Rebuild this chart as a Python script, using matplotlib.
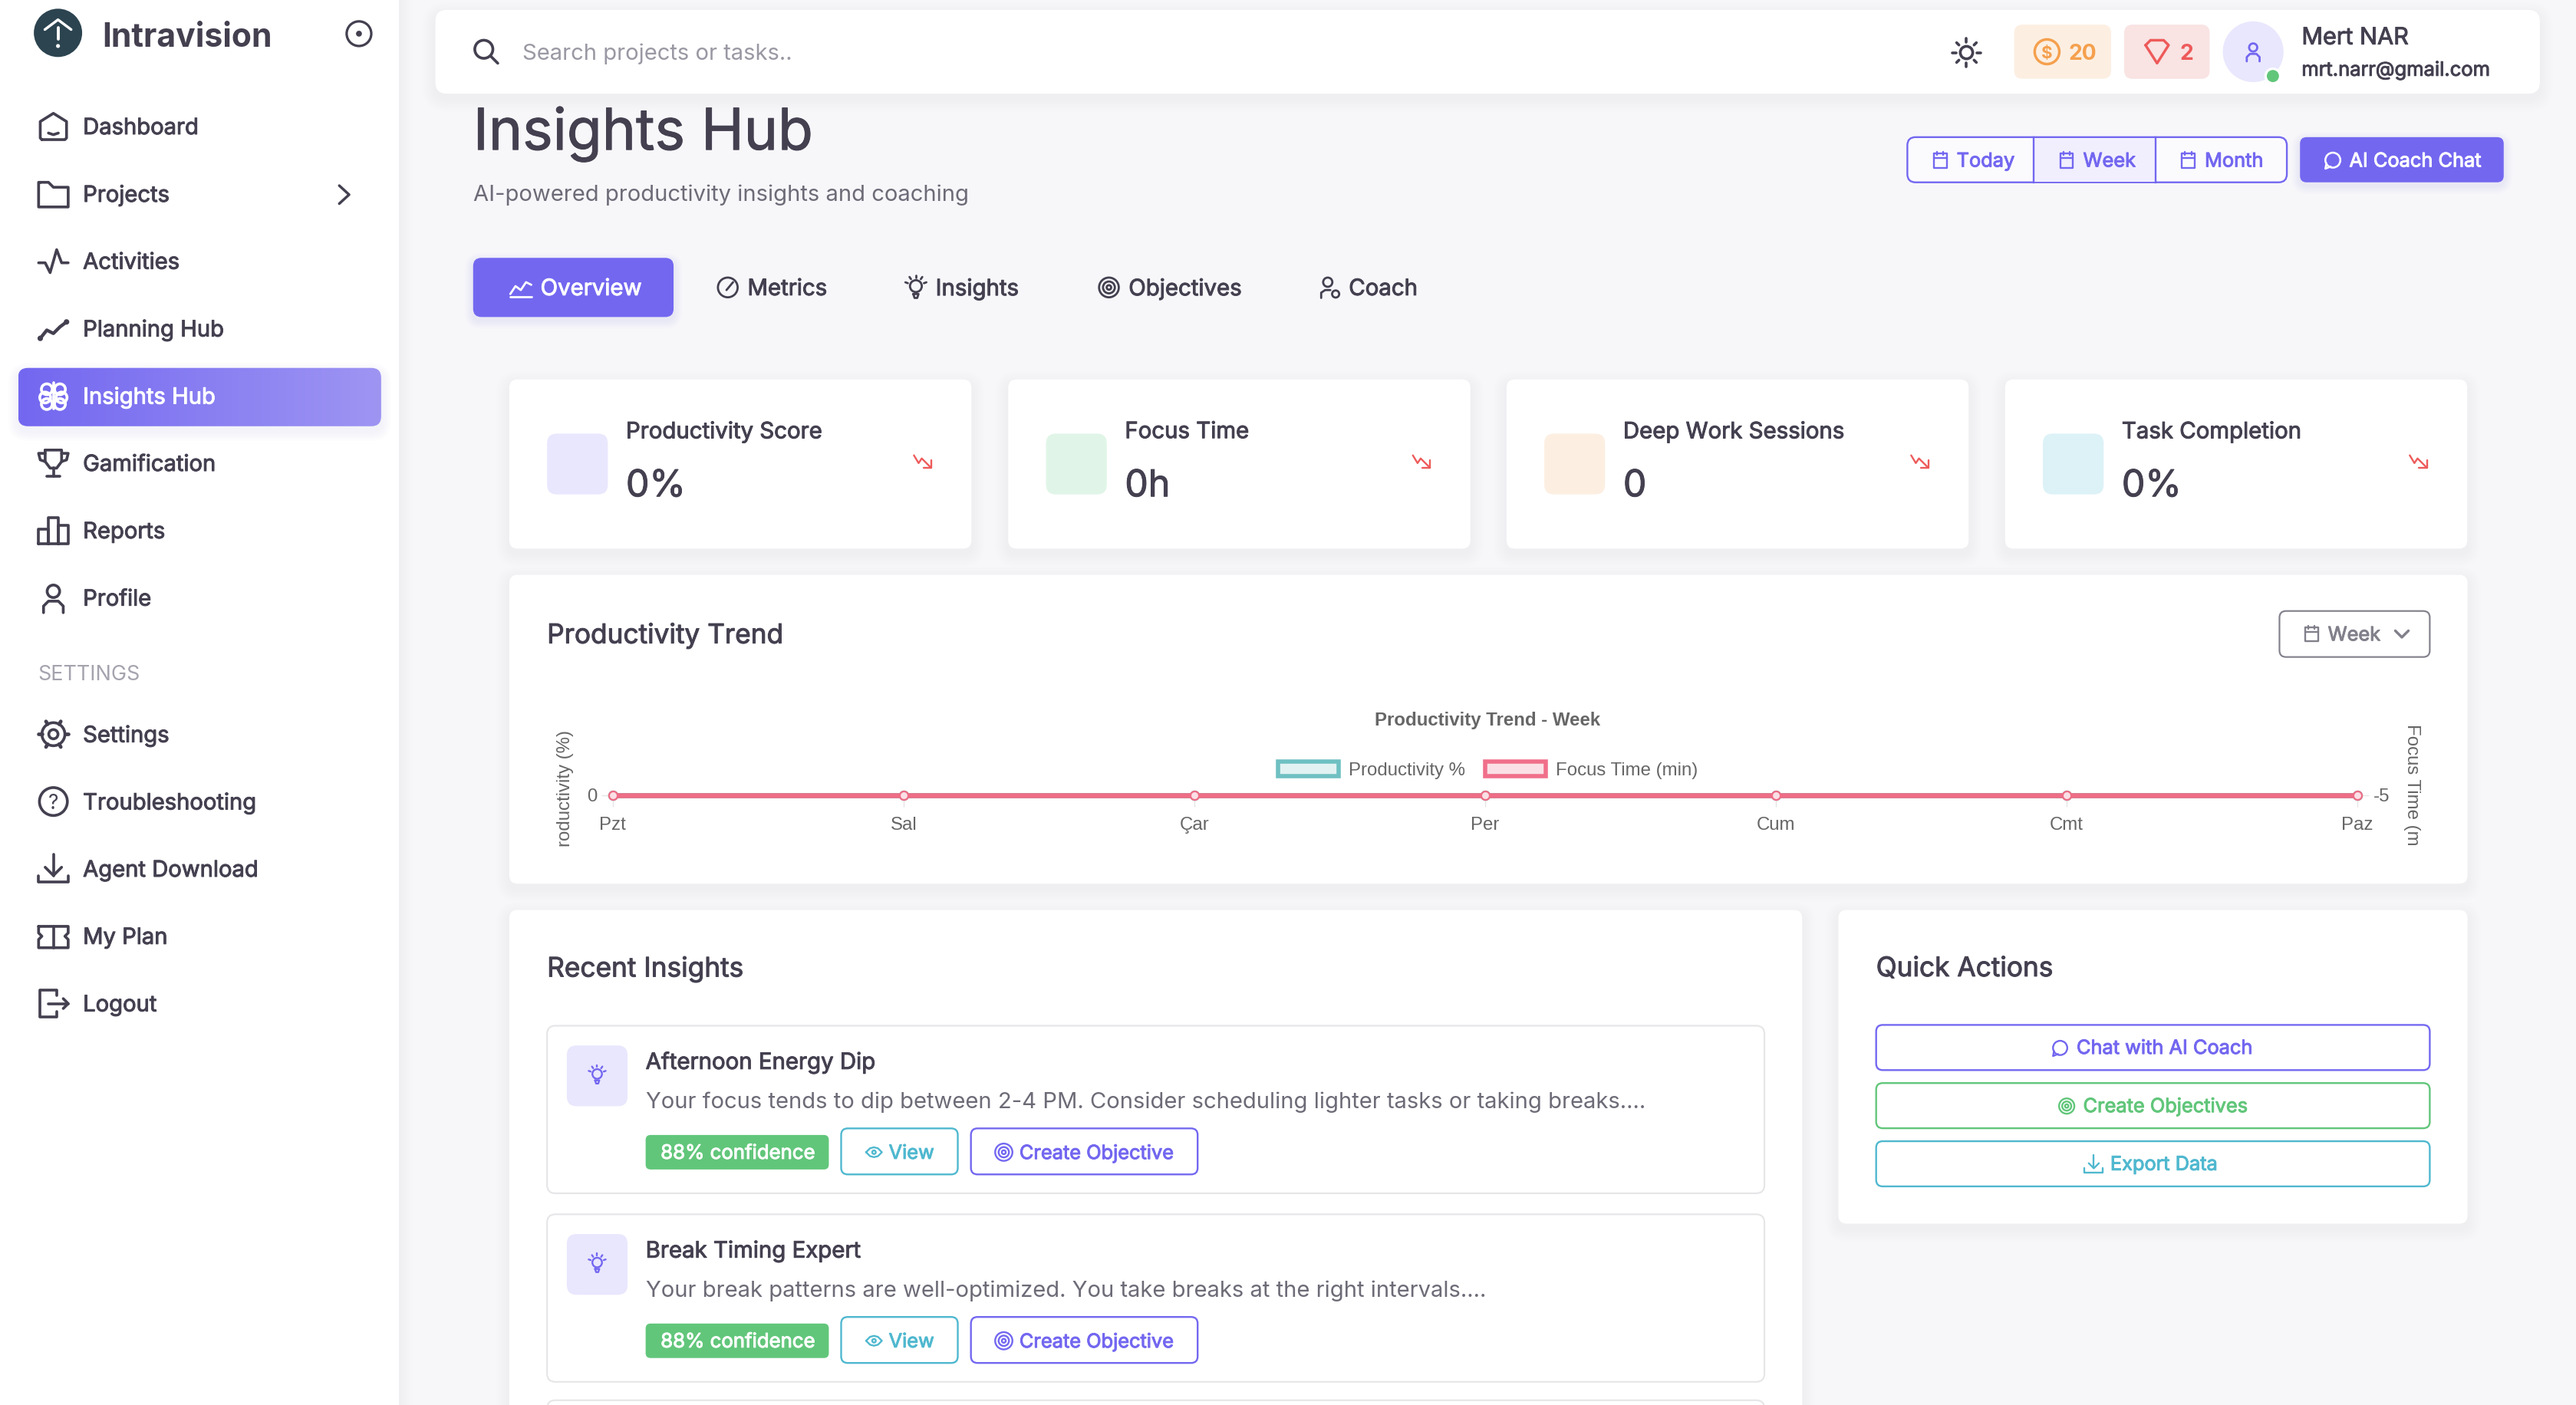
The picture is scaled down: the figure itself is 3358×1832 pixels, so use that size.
import numpy as np
import matplotlib
matplotlib.use('Agg')
import matplotlib.pyplot as plt
import matplotlib.patheffects as pe
from matplotlib.patches import FancyBboxPatch, Circle, Patch

plt.rcParams['font.family'] = ['Inter', 'DejaVu Sans']

# chart data
days = ['Pzt', 'Sal', 'Çar', 'Per', 'Cum', 'Cmt', 'Paz']
productivity = [0, 0, 0, 0, 0, 0, 0]
focus_time = [0, 0, 0, 0, 0, 0, 0]
left_ticks = [0]
right_tick_labels = ['-5']

# page text
nav_top = ['Dashboard', 'Projects', 'Activities', 'Planning Hub', 'Insights Hub',
           'Gamification', 'Reports', 'Profile']
nav_bottom = ['Settings', 'Troubleshooting', 'Agent Download', 'My Plan', 'Logout']
tabs = ['Overview', 'Metrics', 'Insights', 'Objectives', 'Coach']
stat_titles = ['Productivity Score', 'Focus Time', 'Deep Work Sessions', 'Task Completion']
stat_values = ['0%', '0h', '0', '0%']
insight_titles = ['Afternoon Energy Dip', 'Break Timing Expert']
insight_texts = ['Your focus tends to dip between 2-4 PM. Consider scheduling lighter tasks or taking breaks....',
                 'Your break patterns are well-optimized. You take breaks at the right intervals....']
insight_confidence = ['88% confidence', '88% confidence']

W, H = 1568, 855.4   # everything below is laid out in these screen units
PX = 3358 / 1568
PT = PX * 72 / 100
FONT_SCALE = 0.94    # inter runs wider than the font in the screenshot

DARK = '#444050'
GRAY = '#6d6b77'
PURPLE = '#7367f0'
GREEN = '#61c67a'
CYAN = '#4fb8cf'
ORANGE = '#f5a04e'
RED = '#ee5a5a'
BG = '#f7f7fa'
CHART_TEXT = '#666666'
CHART_FONT = 'Liberation Sans'
CHART_SIZE = 11.2 * PT

fig = plt.figure(figsize=(33.58, 18.32), dpi=100, facecolor=BG)
ui = fig.add_axes([0, 0, 1, 1])
ui.set_xlim(0, W)
ui.set_ylim(H, 0)
ui.axis('off')
ui.autoscale(False)


def box(x0, y0, x1, y1, fc='white', ec='none', lw=0, r=5, z=2, alpha=None):
    p = FancyBboxPatch((x0 + r, y0 + r), x1 - x0 - 2 * r, y1 - y0 - 2 * r,
                       boxstyle=f'round,pad={r},rounding_size={r}',
                       fc=fc, ec=ec, lw=lw * PT, zorder=z, alpha=alpha)
    ui.add_patch(p)
    return p


def card(x0, y0, x1, y1, r=5):
    # soft shadow is a stack of faint boxes
    for i in range(8, 0, -1):
        box(x0 - i, y0 - i + 3, x1 + i, y1 + i + 3, fc='#2f2b3d', r=r + i, z=1, alpha=0.005)
    box(x0, y0, x1, y1, r=r)


def txt(x, y, s, size=14.5, color=DARK, weight='normal', ha='left', z=6):
    t = ui.text(x, y - 0.2, s, fontsize=size * FONT_SCALE * PT, color=color,
                fontweight='bold' if weight == 'bold' else 'normal',
                ha=ha, va='center_baseline', zorder=z)
    # no medium cut to rely on, so thicken the regular one a little
    if weight == 'medium':
        t.set_path_effects([pe.withStroke(linewidth=0.7, foreground=color)])
    return t


def line(cx, cy, pts, color=DARK, lw=1.7, s=1.0):
    pts = np.array(pts, dtype=float)
    ui.plot(cx + pts[:, 0] * s, cy + pts[:, 1] * s, color=color, lw=lw * PT,
            solid_capstyle='round', solid_joinstyle='round', zorder=5)


def ring(cx, cy, r, color=DARK, lw=1.7, fc='none'):
    ui.add_patch(Circle((cx, cy), r, fc=fc, ec=color, lw=lw * PT, zorder=5))


def draw_icon(name, cx, cy, color=DARK, s=1.0, lw=1.7):
    if name == 'dashboard':
        line(cx, cy, [(-7, 8), (7, 8), (8, 7), (8, -3), (0, -8), (-8, -3), (-8, 7), (-7, 8)], color, lw, s)
        line(cx, cy, [(-3, 4), (0, 5), (3, 4)], color, lw, s)
    elif name == 'folder':
        line(cx, cy, [(-8, -7), (-3, -7), (0, -4), (9, -4), (9, 8), (-9, 8), (-9, -7), (-8, -7)], color, lw, s)
    elif name == 'pulse':
        line(cx, cy, [(-9, 1), (-5, 1), (-2, 7), (2, -7), (5, 1), (9, 1)], color, lw, s)
    elif name == 'planning':
        line(cx, cy, [(-8, 6), (-4, 1), (0, 3), (4, -1), (8, -4)], color, lw * 1.2, s)
        ring(cx - 8 * s, cy + 6 * s, 0.8 * s, color, lw, color)
        ring(cx + 8 * s, cy - 4 * s, 0.8 * s, color, lw, color)
    elif name == 'brain':
        for dx, dy in [(-4, -4), (4, -4), (-5, 1), (5, 1), (-4, 5), (4, 5)]:
            ring(cx + dx * s, cy + dy * s, 3.3 * s, color, lw)
        line(cx, cy, [(0, -8), (0, 8)], color, lw, s)
    elif name == 'trophy':
        line(cx, cy, [(-5, -8), (5, -8), (5, -1), (2, 3), (-2, 3), (-5, -1), (-5, -8)], color, lw, s)
        line(cx, cy, [(-5, -6), (-9, -6), (-8, -2), (-5, -1)], color, lw, s)
        line(cx, cy, [(5, -6), (9, -6), (8, -2), (5, -1)], color, lw, s)
        line(cx, cy, [(0, 3), (0, 8)], color, lw, s)
        line(cx, cy, [(-4, 8), (4, 8)], color, lw, s)
    elif name == 'reports':
        line(cx, cy, [(-9, 8), (-9, -1), (-3, -1), (-3, 8), (-9, 8)], color, lw, s)
        line(cx, cy, [(-3, 8), (-3, -8), (3, -8), (3, 8), (-3, 8)], color, lw, s)
        line(cx, cy, [(3, 8), (3, -3), (9, -3), (9, 8), (3, 8)], color, lw, s)
    elif name == 'profile':
        ring(cx, cy - 4 * s, 3.8 * s, color, lw)
        line(cx, cy, [(-6, 9), (-6, 5), (-3, 2), (3, 2), (6, 5), (6, 9)], color, lw, s)
    elif name == 'gear':
        ring(cx, cy, 2.8 * s, color, lw)
        ring(cx, cy, 7 * s, color, lw)
        for a in np.arange(0, 360, 60):
            c, d = np.cos(np.radians(a)), np.sin(np.radians(a))
            line(cx, cy, [(7 * c, 7 * d), (9 * c, 9 * d)], color, lw * 1.3, s)
    elif name == 'help':
        ring(cx, cy, 8.5 * s, color, lw)
        txt(cx, cy + 0.2, '?', 13, color, ha='center')
    elif name == 'download':
        line(cx, cy, [(0, -9), (0, 4)], color, lw, s)
        line(cx, cy, [(-5, -1), (0, 4), (5, -1)], color, lw, s)
        line(cx, cy, [(-9, 4), (-9, 8), (9, 8), (9, 4)], color, lw, s)
    elif name == 'plan':
        line(cx, cy, [(-9, -6), (9, -6), (9, -2), (7, 0), (9, 2), (9, 7), (-9, 7), (-9, 2), (-7, 0), (-9, -2), (-9, -6)], color, lw, s)
        line(cx, cy, [(0, -6), (0, 7)], color, lw, s)
    elif name == 'logout':
        line(cx, cy, [(2, -5), (2, -8), (-8, -8), (-8, 8), (2, 8), (2, 5)], color, lw, s)
        line(cx, cy, [(-3, 0), (9, 0)], color, lw, s)
        line(cx, cy, [(6, -3), (9, 0), (6, 3)], color, lw, s)
    elif name == 'calendar':
        line(cx, cy, [(-6, -6), (6, -6), (6, 7), (-6, 7), (-6, -6)], color, lw, s)
        line(cx, cy, [(-6, -2), (6, -2)], color, lw, s)
        line(cx, cy, [(-3, -8), (-3, -5)], color, lw, s)
        line(cx, cy, [(3, -8), (3, -5)], color, lw, s)
    elif name == 'chat':
        ring(cx, cy, 7 * s, color, lw)
        line(cx, cy, [(-6, 3), (-7, 8), (-2, 6)], color, lw, s)
    elif name == 'target':
        ring(cx, cy, 7.5 * s, color, lw)
        ring(cx, cy, 4.5 * s, color, lw)
        ring(cx, cy, 1.7 * s, color, lw)
    elif name == 'bulb':
        ring(cx, cy - 1 * s, 4.5 * s, color, lw)
        line(cx, cy, [(-2, 5), (2, 5), (1, 8), (-1, 8), (-2, 5)], color, lw, s)
        for a in [-160, -125, -90, -55, -20]:
            c, d = np.cos(np.radians(a)), np.sin(np.radians(a))
            line(cx, cy - s, [(6.5 * c, 6.5 * d), (8.5 * c, 8.5 * d)], color, lw, s)
    elif name == 'sun':
        ring(cx, cy, 3.8 * s, color, lw)
        for a in np.arange(0, 360, 45):
            c, d = np.cos(np.radians(a)), np.sin(np.radians(a))
            line(cx, cy, [(6.5 * c, 6.5 * d), (8.5 * c, 8.5 * d)], color, lw, s)
    elif name == 'eye':
        line(cx, cy, [(-8, 0), (-4, -4), (0, -5), (4, -4), (8, 0), (4, 4), (0, 5), (-4, 4), (-8, 0)], color, lw, s)
        ring(cx, cy, 1.8 * s, color, lw)
    elif name == 'search':
        ring(cx - 1.5 * s, cy - 1.5 * s, 5.5 * s, color, lw)
        line(cx, cy, [(2.5, 2.5), (7, 7)], color, lw, s)
    elif name == 'trend':
        line(cx, cy, [(-8, 5), (-4, -1), (0, 2), (4, -4), (8, -2)], color, lw, s)
        line(cx, cy, [(-8, 7), (8, 7)], color, lw, s)
    elif name == 'gauge':
        ring(cx, cy, 7.5 * s, color, lw)
        line(cx, cy, [(-1, 2), (4, -4)], color, lw, s)
    elif name == 'coach':
        ring(cx - 1 * s, cy - 4 * s, 3.5 * s, color, lw)
        line(cx, cy, [(-6, 8), (-6, 4), (-3, 2), (1, 2)], color, lw, s)
        ring(cx + 5 * s, cy + 5 * s, 2.7 * s, color, lw)
    elif name == 'drop':
        line(cx, cy, [(-6, -4), (-3, 1), (-1, -2), (5, 4)], color, lw, s)
        line(cx, cy, [(5, -1), (5, 4), (0, 4)], color, lw, s)


# --- sidebar ---
for i in range(8, 0, -1):
    ui.fill_between([243, 243 + i], 0, H, color='#2f2b3d', alpha=0.005, lw=0, zorder=1)
ui.fill_between([0, 243], 0, H, color='white', lw=0, zorder=2)

ui.add_patch(Circle((35.3, 20), 14.7, fc='#2c4450', ec='none', zorder=5))
line(35.3, 20, [(-8, -2), (0, -8), (8, -2)], 'white', 1.6)
line(35.3, 20, [(0, -3), (0, 4)], 'white', 1.8)
ui.add_patch(Circle((35.3, 28), 1.2, fc='white', zorder=6))
txt(62, 21, 'Intravision', 21.2, DARK, 'bold')
ring(218.5, 20.5, 7.5, DARK, 1.5)
ui.add_patch(Circle((218.5, 20.5), 1.8, fc=DARK, zorder=5))

# active row has a left-to-right gradient
for i in range(6, 0, -1):
    box(11 - i, 224 - i + 3, 232 + i, 259.5 + i + 3, fc=PURPLE, r=6 + i, z=2.5, alpha=0.012)
active = box(11, 224, 232, 259.5, fc='none', r=6, z=3)
grad = np.linspace(0, 1, 256).reshape(1, -1)
cmap = matplotlib.colors.LinearSegmentedColormap.from_list('nav', [PURPLE, '#9e95f3'])
im = ui.imshow(grad, extent=(11, 232, 259.5, 224), cmap=cmap, aspect='auto', zorder=3)
im.set_clip_path(active)
ui.set_xlim(0, W)
ui.set_ylim(H, 0)

nav_icons = ['dashboard', 'folder', 'pulse', 'planning', 'brain', 'trophy', 'reports', 'profile']
for i, label in enumerate(nav_top):
    y = 77 + 41 * i
    col = 'white' if label == 'Insights Hub' else DARK
    draw_icon(nav_icons[i], 32.5, y, col)
    txt(50.5, y, label, 14.5, col, 'medium')
line(209.5, 118.5, [(-3, -5.5), (3, 0), (-3, 5.5)], DARK, 1.6)

txt(23, 409.5, 'SETTINGS', 13.4, '#a5a3ae')
bottom_icons = ['gear', 'help', 'download', 'plan', 'logout']
for i, label in enumerate(nav_bottom):
    y = 447 + 41 * i
    draw_icon(bottom_icons[i], 32.5, y)
    txt(50.5, y, label, 14.5, DARK, 'medium')

# --- top bar ---
card(265, 6, 1546, 57, r=7)
draw_icon('search', 296, 31.5, DARK)
txt(318, 31.5, 'Search projects or tasks..', 14.5, '#9a98a3')
draw_icon('sun', 1197, 32, DARK)
box(1226, 15, 1285, 48, fc='#fcefe2', r=5)
ring(1246, 31.5, 7.5, ORANGE, 1.6)
txt(1246, 32, '$', 11, ORANGE, 'bold', ha='center')
txt(1259, 31.5, '20', 14, ORANGE, 'bold')
box(1293, 15, 1345, 48, fc='#f9e3e3', r=5)
line(1313, 31.5, [(-7, -4), (-4, -7), (4, -7), (7, -4), (0, 7), (-7, -4)], RED, 1.6)
txt(1327, 31.5, '2', 14, RED, 'bold')
ui.add_patch(Circle((1371.5, 31.5), 18.5, fc='#e9e7fd', ec='none', zorder=3))
draw_icon('profile', 1371.5, 31.5, PURPLE, 0.65, 1.3)
ui.add_patch(Circle((1383.5, 46.3), 5.2, fc='white', ec='none', zorder=5))
ui.add_patch(Circle((1383.5, 46.3), 3.7, fc=GREEN, ec='none', zorder=6))
txt(1401, 22, 'Mert NAR', 15.2, DARK, 'medium')
txt(1401, 42, 'mrt.narr@gmail.com', 12.7, DARK, 'medium')

# --- page header ---
txt(288, 78, 'Insights Hub', 37.2, DARK, 'medium')
txt(288, 117.5, 'AI-powered productivity insights and coaching', 14.5, GRAY)

range_labels = ['Today', 'Week', 'Month']
range_edges = [1161, 1238, 1312, 1392]
box(1161, 83.5, 1392, 111, fc='#fbfbfe', ec=PURPLE, lw=1.1, r=5, z=3)
ui.fill_between([1238, 1312], 84, 110.5, color='#f1effe', lw=0, zorder=3.2)
for xe in range_edges[1:3]:
    ui.plot([xe, xe], [83.5, 111], color=PURPLE, lw=1.1 * PT, zorder=4)
for i, label in enumerate(range_labels):
    draw_icon('calendar', range_edges[i] + 20, 97.5, PURPLE, 0.65, 1.1)
    txt(range_edges[i] + 30, 97.5, label, 12.6, PURPLE, 'medium')
for i in range(5, 0, -1):
    box(1400 - i, 83.5 - i + 2, 1524 + i, 111 + i + 2, fc=PURPLE, r=5 + i, z=2.5, alpha=0.02)
box(1400, 83.5, 1524, 111, fc=PURPLE, r=4, z=3)
draw_icon('chat', 1420, 97.5, 'white', 0.65, 1.2)
txt(1430, 97.5, 'AI Coach Chat', 12.6, 'white', 'medium')

# --- tabs ---
for i in range(5, 0, -1):
    box(288 - i, 157 - i + 2, 410 + i, 193 + i + 2, fc=PURPLE, r=5 + i, z=1.5, alpha=0.02)
box(288, 157, 410, 193, fc=PURPLE, r=5, z=3)
tab_x = [329, 455, 569.5, 687, 821]
tab_icons = ['trend', 'gauge', 'bulb', 'target', 'coach']
for i, label in enumerate(tabs):
    col = 'white' if i == 0 else DARK
    draw_icon(tab_icons[i], tab_x[i] - 12, 175, col, 0.8, 1.3)
    txt(tab_x[i], 175, label, 14.6, col, 'medium')

# --- stat cards ---
stat_x = [310, 613.7, 917, 1220.5]
stat_fill = ['#e9e7fd', '#e0f5e7', '#fcefe2', '#dcf2f7']
for i, title in enumerate(stat_titles):
    x = stat_x[i]
    card(x, 231, x + 281.3, 334, r=5)
    box(x + 23, 264, x + 60, 301, fc=stat_fill[i], r=6)
    txt(x + 71, 262, title, 14.6, DARK, 'medium')
    txt(x + 71, 294, stat_values[i], 24, DARK, 'medium')
    draw_icon('drop', x + 252, 281, RED, 0.95, 1.1)

# --- trend card ---
card(310, 350, 1502, 538, r=5)
txt(333, 385.5, 'Productivity Trend', 17.5, DARK, 'medium')
box(1387.5, 372, 1479, 400, fc='white', ec='#82808b', lw=1.0, r=4, z=3)
draw_icon('calendar', 1407, 386, '#82808b', 0.65, 1.1)
txt(1417, 386, 'Week', 12.6, '#82808b', 'medium')
line(1462, 386, [(-4, -2), (0, 2), (4, -2)], '#82808b', 1.6)

# the chart itself, flat because every value sits on zero
ax_left, ax_right = 373, 1435
ax_top, ax_bottom = 476, 484
ax = fig.add_axes([ax_left / W, 1 - ax_bottom / H, (ax_right - ax_left) / W, (ax_bottom - ax_top) / H])
ax.patch.set_alpha(0)
x_pos = np.arange(len(days))
ax.plot(x_pos, productivity, color='#4bc0c0', lw=6.6 * 0.72, marker='o', ms=8,
        mfc='#e2f2f2', mec='#4bc0c0', mew=1.6, clip_on=False, zorder=3)
ax.set_xlim(0, len(days) - 1)
ax.set_ylim(0, 1)
ax.set_xticks(x_pos, days)
ax.set_yticks(left_ticks)
ax.tick_params(axis='x', length=7 * PT, width=1, color='#e5e5e5', pad=10, labelsize=CHART_SIZE,
               labelcolor=CHART_TEXT, labelfontfamily=CHART_FONT)
ax.tick_params(axis='y', length=7 * PT, width=1, color='#e5e5e5', pad=4, labelsize=CHART_SIZE,
               labelcolor=CHART_TEXT, labelfontfamily=CHART_FONT)
for s in ax.spines.values():
    s.set_visible(False)
ax.set_ylabel('roductivity (%)', fontsize=CHART_SIZE, color=CHART_TEXT, family=CHART_FONT)
ax.yaxis.set_label_coords(349.5 / W, 1 - 480 / H, transform=fig.transFigure)

ax2 = ax.twinx()
ax2.plot(x_pos, focus_time, color='#ee6d85', lw=6.6 * 0.72, marker='o', ms=8,
         mfc='#fae0e6', mec='#ee6d85', mew=1.6, clip_on=False, zorder=4)
ax2.set_ylim(0, 1)
ax2.set_yticks([0], right_tick_labels)
ax2.tick_params(axis='y', length=7 * PT, width=1, color='#e5e5e5', pad=4, labelsize=CHART_SIZE,
                labelcolor=CHART_TEXT, labelfontfamily=CHART_FONT)
for s in ax2.spines.values():
    s.set_visible(False)
ax2.set_ylabel('Focus Time (m', fontsize=CHART_SIZE, color=CHART_TEXT, family=CHART_FONT, rotation=-90)
ax2.yaxis.set_label_coords(1473 / W, 1 - 478 / H, transform=fig.transFigure)

ui.text(905.5, 437.5, 'Productivity Trend - Week', fontsize=CHART_SIZE, color=CHART_TEXT, fontweight='bold',
        family=CHART_FONT, ha='center', va='center_baseline', zorder=6)
handles = [Patch(fc='#e2f2f2', ec='#6fc0c2', lw=2.6 * PT, label='Productivity %'),
           Patch(fc='#fae0e6', ec='#f06f8a', lw=2.6 * PT, label='Focus Time (min)')]
leg = ax.legend(handles=handles, ncol=2, loc='center', frameon=False,
                bbox_to_anchor=(905.7 / W, 1 - 469 / H), bbox_transform=fig.transFigure,
                prop={'family': CHART_FONT, 'size': CHART_SIZE}, labelcolor=CHART_TEXT,
                handlelength=3.3, handleheight=0.86, handletextpad=0.55, columnspacing=1.05,
                borderpad=0, borderaxespad=0)
leg.set_zorder(10)

# --- recent insights ---
card(310, 554, 1097, 880, r=5)
txt(333, 588.5, 'Recent Insights', 17.5, DARK, 'medium')
insight_y = [624.5, 739.3, 852.5]
for i, y in enumerate(insight_y):
    box(333, y, 1074, y + 102, fc='white', ec='#e6e6e8', lw=1.0, r=5, z=3)
    if i >= len(insight_titles):
        continue
    box(345, y + 12, 382, y + 49, fc='#e9e7fd', r=6, z=4)
    draw_icon('bulb', 363.5, y + 30, PURPLE, 0.65, 1.1)
    txt(393, y + 21.5, insight_titles[i], 14.6, DARK, 'medium')
    txt(393, y + 45.5, insight_texts[i], 14.5, GRAY)
    box(393, y + 66.5, 504.5, y + 87.5, fc=GREEN, r=3, z=4)
    txt(449, y + 77, insight_confidence[i], 12.8, 'white', 'medium', ha='center')
    box(512, y + 62.5, 583, y + 90.5, fc='white', ec=CYAN, lw=1.1, r=4, z=4)
    draw_icon('eye', 532, y + 77, CYAN, 0.6, 1.1)
    txt(541, y + 77, 'View', 12.6, CYAN, 'medium')
    box(591, y + 62.5, 729, y + 90.5, fc='white', ec=PURPLE, lw=1.1, r=4, z=4)
    draw_icon('target', 611, y + 77, PURPLE, 0.7, 1.1)
    txt(620.5, y + 77, 'Create Objective', 12.6, PURPLE, 'medium')

# --- quick actions ---
card(1119, 554, 1502, 745, r=5)
txt(1142, 588.5, 'Quick Actions', 17.5, DARK, 'medium')
quick_labels = ['Chat with AI Coach', 'Create Objectives', 'Export Data']
quick_colors = [PURPLE, GREEN, CYAN]
quick_icons = ['chat', 'target', 'download']
quick_text_x = [1264, 1268, 1284.5]
for i, label in enumerate(quick_labels):
    y = 624 + 35.4 * i
    box(1142, y, 1479, y + 27.5, fc='white', ec=quick_colors[i], lw=1.1, r=4, z=3)
    draw_icon(quick_icons[i], quick_text_x[i] - 10, y + 14, quick_colors[i], 0.62, 1.1)
    txt(quick_text_x[i], y + 13.6, label, 12.6, quick_colors[i], 'medium')

fig.savefig('out.png', dpi=100, facecolor=BG)
